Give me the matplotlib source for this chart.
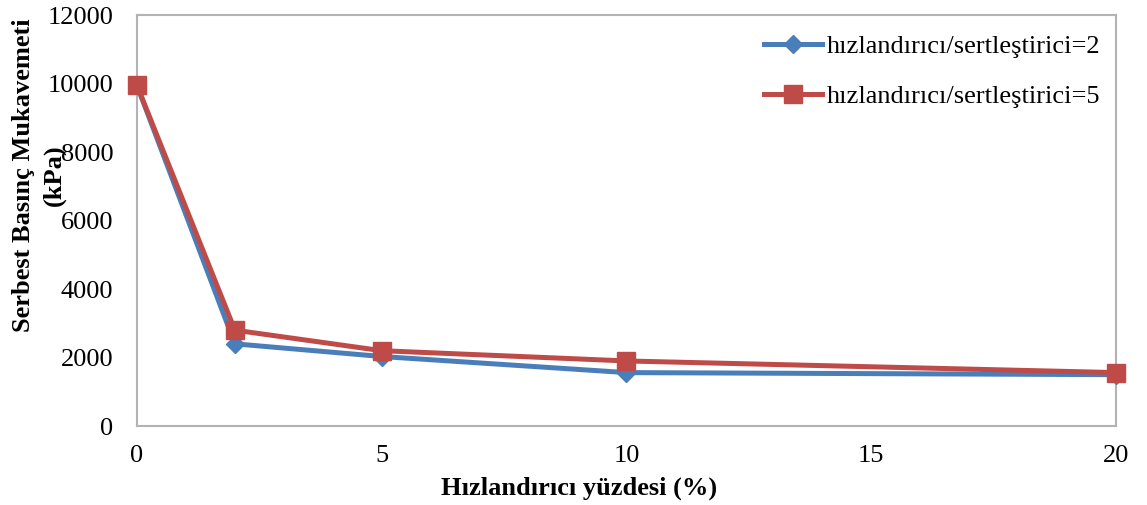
import matplotlib.pyplot as plt
import numpy as np

# hızlandırıcı yüzdesi (%)
x = [0, 2, 5, 10, 20]
oran2 = [9950, 2400, 2030, 1560, 1500]
oran5 = [9950, 2800, 2200, 1900, 1560]
labels = ["hızlandırıcı/sertleştirici=2", "hızlandırıcı/sertleştirici=5"]

plt.rcParams['font.family'] = ['Liberation Serif', 'DejaVu Serif']

fig = plt.figure(figsize=(11.47, 5.05), dpi=100)
ax = fig.add_axes([0.1194, 0.1564, 0.8536, 0.8136])

ax.plot(x, oran2, '-D', color='#4A7EBB', lw=3.6, ms=9, label=labels[0], clip_on=False, zorder=3)
ax.plot(x, oran5, '-s', color='#BE4B48', lw=3.6, ms=13, label=labels[1], clip_on=False, zorder=4)

ax.set_xlim(0, 20)
ax.set_ylim(0, 12000)
ax.set_xticks([0, 5, 10, 15, 20])
ax.set_yticks(np.arange(0, 12001, 2000))
ax.tick_params(length=0, labelsize=19)
ax.tick_params(axis='x', pad=14)
ax.tick_params(axis='y', pad=17)
for s in ax.spines.values():
    s.set_color('#B3B3B3')
    s.set_linewidth(1.5)

ax.set_xlabel("Hızlandırıcı yüzdesi (%)", fontsize=19, fontweight='bold', va='center')
ax.xaxis.set_label_coords(0.452, -0.152)
ax.set_ylabel("Serbest Basınç Mukavemeti\n(kPa)", fontsize=19, fontweight='bold',
              ha='center', va='center', linespacing=1.45)
ax.yaxis.set_label_coords(-0.100, 0.61)

ax.legend(loc='upper left', bbox_to_anchor=(0.63, 0.978), frameon=False, fontsize=19,
          handlelength=2.2, handletextpad=0.15, labelspacing=1.0, borderaxespad=0)

fig.savefig('out.png', dpi=100)
